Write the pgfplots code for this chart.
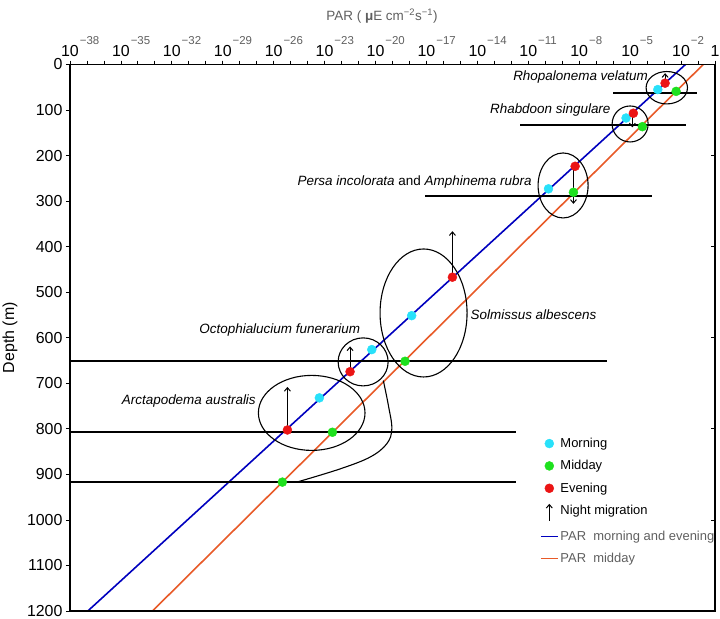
\documentclass[border=0pt]{standalone}
\usepackage{pgfplots}
\pgfplotsset{compat=1.18}
\usepackage{fontspec}
\setmainfont{Liberation Sans}
\usetikzlibrary{arrows.meta}

\definecolor{morn}{RGB}{40,225,250}
\definecolor{mid}{RGB}{30,225,30}
\definecolor{eve}{RGB}{235,20,20}
\definecolor{parblue}{RGB}{0,0,190}
\definecolor{parred}{RGB}{232,90,40}
\definecolor{txtgray}{RGB}{95,95,95}

% tick label 10^-n, the exponent hangs to the right of "10"
\newcommand{\tl}[1]{10\rlap{\hspace{1bp}\raisebox{12bp}{\fontsize{11.5}{13}\selectfont\color{txtgray}−#1}}}

\begin{document}
\begin{tikzpicture}[font=\fontsize{13}{15}\selectfont]
\begin{axis}[
  scale only axis, width=645bp, height=546.5bp,
  xmin=-38, xmax=0, ymin=0, ymax=1200, y dir=reverse,
  clip=false,
  xtick={-38,-35,...,-2,0},
  xticklabels={\tl{38},\tl{35},\tl{32},\tl{29},\tl{26},\tl{23},\tl{20},\tl{17},\tl{14},\tl{11},\tl{8},\tl{5},\tl{2},1},
  minor xtick={-37,-36,...,-1},
  xtick pos=right, xticklabel pos=right,
  ytick={0,100,...,1200}, ytick pos=left,
  tick align=outside, major tick length=4bp, minor tick length=4bp,
  tick style={black, line width=0.8bp},
  axis line style={line width=1.2bp},
  ticklabel style={font=\fontsize{16}{19}\selectfont},
  /pgf/number format/1000 sep={}, /pgf/number format/assume math mode=true,
  ylabel={Depth (m)},
  ylabel style={font=\fontsize{16}{19}\selectfont, at={(axis description cs:-0.093,0.5)}, anchor=center},
  legend style={draw=none, fill=none, at={(0.724,0.324)}, anchor=north west,
    font=\fontsize{13}{15}\selectfont, row sep=7.5bp},
  legend cell align=left,
]
% PAR profiles
\addplot[parblue, line width=1.6bp, forget plot] coordinates {(-1.74,0) (-36.95,1200)};
\addplot[parred, line width=1.6bp, forget plot] coordinates {(-0.695,0) (-33.14,1200)};

% depth lines
\addplot[black, line width=2bp, forget plot] coordinates {(-6.0,63) (-1.05,63)};
\addplot[black, line width=2bp, forget plot] coordinates {(-11.48,133) (-1.70,133)};
\addplot[black, line width=2bp, forget plot] coordinates {(-17.08,288) (-3.70,288)};
\addplot[black, line width=2bp, forget plot] coordinates {(-38,651) (-6.36,651)};
\addplot[black, line width=2bp, forget plot] coordinates {(-38,807.5) (-11.72,807.5)};
\addplot[black, line width=2bp, forget plot] coordinates {(-38,917) (-11.72,917)};

% groupings
\draw[line width=1.1bp] (axis cs:-2.84,51) ellipse [x radius=20.7bp, y radius=16.2bp];
\draw[line width=1.1bp] (axis cs:-5.0,130.6) ellipse [x radius=18bp, y radius=18bp];
\draw[line width=1.1bp] (axis cs:-8.95,265.6) ellipse [x radius=25bp, y radius=32.5bp];
\draw[line width=1.1bp] (axis cs:-17.17,545.6) ellipse [x radius=43.5bp, y radius=64bp];
\draw[line width=1.1bp] (axis cs:-20.73,653) ellipse [x radius=25bp, y radius=24bp];
\draw[line width=1.1bp] (axis cs:-23.76,765) ellipse [x radius=53.3bp, y radius=37.5bp];
\draw[line width=1.1bp] plot[smooth, tension=0.6] coordinates {(axis cs:-19.54,694) (axis cs:-19.24,749) (axis cs:-19.04,800) (axis cs:-19.34,833) (axis cs:-20.32,862) (axis cs:-22.09,888) (axis cs:-24.55,916)};

% night migration
\addplot[-{Straight Barb[length=3.5bp,width=6bp]}, line width=1bp, forget plot] coordinates {(-2.94,33) (-2.94,19)};
\addplot[-{Straight Barb[length=3.5bp,width=6bp]}, line width=1bp, forget plot] coordinates {(-4.87,112) (-4.87,138)};
\addplot[-{Straight Barb[length=3.5bp,width=6bp]}, line width=1bp, forget plot] coordinates {(-8.34,229) (-8.34,306)};
\addplot[-{Straight Barb[length=3.5bp,width=6bp]}, line width=1bp, forget plot] coordinates {(-15.47,467) (-15.47,366)};
\addplot[-{Straight Barb[length=3.5bp,width=6bp]}, line width=1bp, forget plot] coordinates {(-21.5,668) (-21.5,619)};
\addplot[-{Straight Barb[length=3.5bp,width=6bp]}, line width=1bp, forget plot] coordinates {(-25.19,800) (-25.19,708)};

% observations
\addplot[only marks, mark=*, mark size=4.5bp, morn, forget plot] coordinates {
  (-3.37,55) (-5.24,117.5) (-9.81,273) (-17.87,551.5) (-20.22,626) (-23.31,732)};
\addplot[only marks, mark=*, mark size=4.5bp, mid, forget plot] coordinates {
  (-2.29,59) (-4.28,136.5) (-8.34,280.6) (-18.26,651.6) (-22.54,807.5) (-25.49,917)};
\addplot[only marks, mark=*, mark size=4.5bp, eve, forget plot] coordinates {
  (-2.94,41) (-4.81,107) (-8.24,223.5) (-15.47,467) (-21.5,674.5) (-25.19,802.5)};

% species names
\node[anchor=east, font=\itshape\fontsize{13.5}{16}\selectfont] at (axis cs:-3.75,27.4) {Rhopalonema velatum};
\node[anchor=east, font=\itshape\fontsize{13.5}{16}\selectfont] at (axis cs:-5.95,100) {Rhabdoon singulare};
\node[anchor=east, font=\fontsize{13.5}{16}\selectfont] at (axis cs:-10.6,258) {\textit{Persa incolorata} and \textit{Amphinema rubra}};
\node[anchor=west, font=\itshape\fontsize{13.5}{16}\selectfont] at (axis cs:-14.6,550) {Solmissus albescens};
\node[anchor=east, font=\itshape\fontsize{13.5}{16}\selectfont] at (axis cs:-20.7,584) {Octophialucium funerarium};
\node[anchor=east, font=\itshape\fontsize{13.5}{16}\selectfont] at (axis cs:-26.85,738) {Arctapodema australis};

% legend
\addlegendimage{only marks, mark=*, mark size=4.5bp, morn}
\addlegendentry{Morning}
\addlegendimage{only marks, mark=*, mark size=4.5bp, mid}
\addlegendentry{Midday}
\addlegendimage{only marks, mark=*, mark size=4.5bp, eve}
\addlegendentry{Evening}
\addlegendimage{legend image code/.code={\draw[-{Straight Barb[length=3.5bp,width=6bp]}, line width=1bp] (0.3cm,-10bp) -- (0.3cm,7bp);}}
\addlegendentry{Night migration}
\addlegendimage{parblue, line width=1.3bp}
\addlegendentry{\color{txtgray}PAR\ \ morning and evening}
\addlegendimage{parred, line width=1.3bp}
\addlegendentry{\color{txtgray}PAR\ \ midday}
\end{axis}
% right-hand ticks every 200 m
\begin{axis}[
  scale only axis, width=645bp, height=546.5bp,
  xmin=-38, xmax=0, ymin=0, ymax=1200, y dir=reverse,
  xtick=\empty, ytick={0,200,...,1200}, yticklabels={},
  ytick pos=right, tick align=inside, major tick length=4bp,
  tick style={black, line width=0.8bp},
  axis line style={line width=1.2bp},
]
\end{axis}
\node[text=txtgray, font=\fontsize{13.5}{16}\selectfont] at (312bp,595bp) {PAR ( \textbf{μ}E cm\textsuperscript{−2}s\textsuperscript{−1})};
\pgfresetboundingbox
\path (-70bp,-8bp) rectangle (650bp,611bp);
\end{tikzpicture}
\end{document}
